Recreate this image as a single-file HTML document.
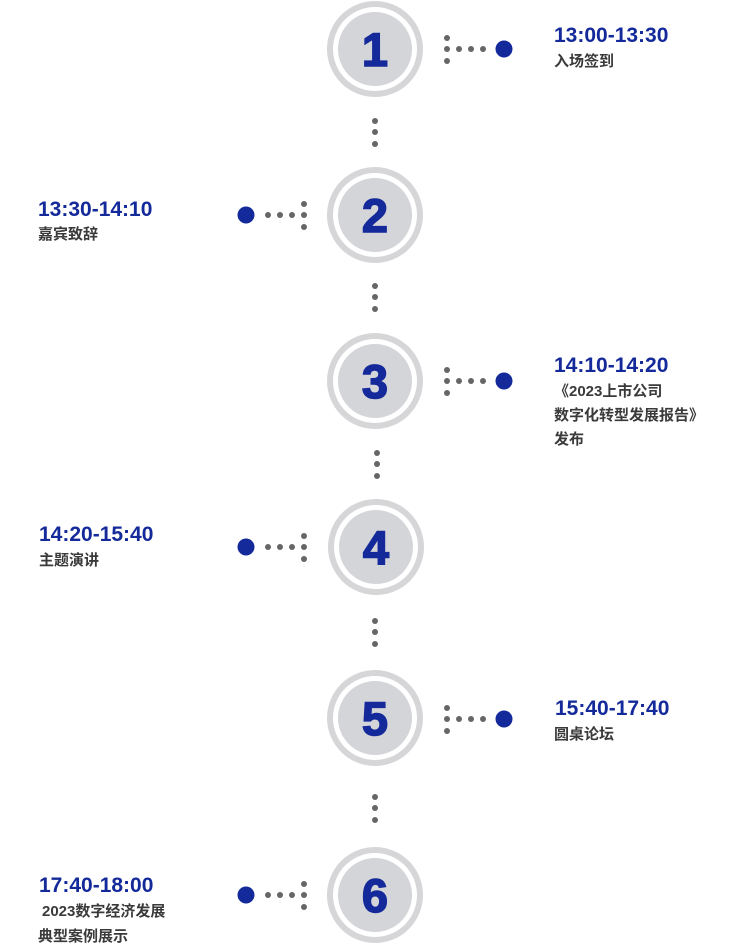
<!DOCTYPE html>
<html><head><meta charset="utf-8"><style>
html,body{margin:0;padding:0;background:#fff;}
svg{display:block}
.t{font-family:"Liberation Sans","Noto Sans CJK SC",sans-serif;font-weight:bold;font-size:21px;fill:#14299a}
.s{font-family:"Liberation Sans","Noto Sans CJK SC",sans-serif;font-weight:bold;font-size:15px;fill:#3a3a3a}
.n{font-family:"Liberation Sans",sans-serif;font-weight:bold;font-size:47px;fill:#14299a;stroke:#14299a;stroke-width:1.5}
</style></head><body>
<svg width="750" height="945" viewBox="0 0 750 945" xmlns="http://www.w3.org/2000/svg">
<defs>
<g id="c">
<circle r="45" fill="none" stroke="#d6d6d8" stroke-width="6"/>
<circle r="37" fill="#d4d5d9"/>
</g>
<g id="vd" fill="#666"><circle cx="0" cy="-11" r="3"/><circle cx="0" cy="0" r="3"/><circle cx="0" cy="12" r="3"/></g>
<g id="rc" fill="#666">
<circle cx="447" cy="-11" r="3"/><circle cx="447" cy="0" r="3"/><circle cx="447" cy="12" r="3"/>
<circle cx="459" cy="0" r="3"/><circle cx="471" cy="0" r="3"/><circle cx="483" cy="0" r="3"/>
<circle cx="504" cy="0" r="8.5" fill="#14299a"/>
</g>
<g id="lc" fill="#666">
<circle cx="304" cy="-11" r="3"/><circle cx="304" cy="0" r="3"/><circle cx="304" cy="12" r="3"/>
<circle cx="268" cy="0" r="3"/><circle cx="280" cy="0" r="3"/><circle cx="292" cy="0" r="3"/>
<circle cx="246" cy="0" r="8.5" fill="#14299a"/>
</g>
</defs>

<use href="#c" x="375" y="49"/>
<use href="#c" x="375" y="215"/>
<use href="#c" x="375" y="381"/>
<use href="#c" x="376" y="547"/>
<use href="#c" x="375" y="718"/>
<use href="#c" x="375" y="895"/>

<text class="n" x="375" y="66" text-anchor="middle">1</text>
<text class="n" x="375" y="232" text-anchor="middle">2</text>
<text class="n" x="375" y="398" text-anchor="middle">3</text>
<text class="n" x="376" y="564" text-anchor="middle">4</text>
<text class="n" x="375" y="735" text-anchor="middle">5</text>
<text class="n" x="375" y="912" text-anchor="middle">6</text>

<use href="#vd" x="375" y="132"/>
<use href="#vd" x="375" y="297"/>
<use href="#vd" x="377" y="464"/>
<use href="#vd" x="375" y="632"/>
<use href="#vd" x="375" y="808"/>

<use href="#rc" x="0" y="49"/>
<use href="#lc" x="0" y="215"/>
<use href="#rc" x="0" y="381"/>
<use href="#lc" x="0" y="547"/>
<use href="#rc" x="0" y="719"/>
<use href="#lc" x="0" y="895"/>

<text class="t" x="554" y="42">13:00-13:30</text>
<text class="s" x="554" y="66">入场签到</text>

<text class="t" x="38" y="216">13:30-14:10</text>
<text class="s" x="38" y="239">嘉宾致辞</text>

<text class="t" x="554" y="372">14:10-14:20</text>
<text class="s" x="554" y="396">《2023上市公司</text>
<text class="s" x="554" y="420">数字化转型发展报告》</text>
<text class="s" x="554" y="444">发布</text>

<text class="t" x="39" y="541">14:20-15:40</text>
<text class="s" x="39" y="565">主题演讲</text>

<text class="t" x="555" y="715">15:40-17:40</text>
<text class="s" x="554" y="739">圆桌论坛</text>

<text class="t" x="39" y="892">17:40-18:00</text>
<text class="s" x="42" y="916">2023数字经济发展</text>
<text class="s" x="38" y="941">典型案例展示</text>
</svg>
</body></html>
